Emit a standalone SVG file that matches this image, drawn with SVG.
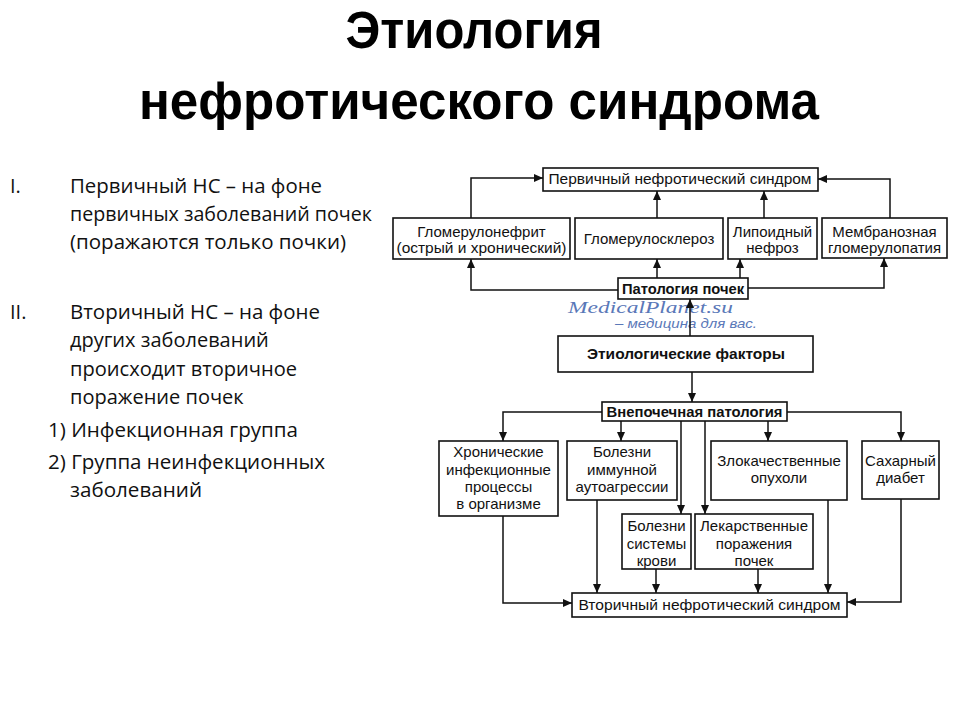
<svg xmlns="http://www.w3.org/2000/svg" width="960" height="720" viewBox="0 0 960 720">
<defs>
<marker id="ah" markerUnits="userSpaceOnUse" markerWidth="9" markerHeight="8" refX="9" refY="4" orient="auto">
<path d="M0,0 L9,4 L0,8 z" fill="#111"/>
</marker>
<style>
.title{font-family:"Liberation Sans",Arial,sans-serif;font-weight:bold;font-size:51px;fill:#000;text-anchor:middle}
.lt{font-family:"Open Sans","Noto Sans","Liberation Sans",sans-serif;font-size:20px;fill:#111}
.box{fill:#fff;stroke:#111;stroke-width:1.6}
.t{font-family:"Liberation Sans",Arial,sans-serif;font-size:15px;fill:#111;text-anchor:middle}
.b{font-weight:bold}
.con path{fill:none;stroke:#111;stroke-width:1.5;marker-end:url(#ah)}
.wm1{font-family:"Liberation Serif",serif;font-style:italic;font-size:16.5px;fill:#5a78b8}
.wm2{font-family:"Liberation Sans",sans-serif;font-style:italic;font-size:13px;fill:#5a78b8}
</style>
</defs>
<rect width="960" height="720" fill="#fff"/>

<text class="title" x="474" y="48" textLength="257" lengthAdjust="spacingAndGlyphs">Этиология</text>
<text class="title" x="479" y="119" textLength="680" lengthAdjust="spacingAndGlyphs">нефротического синдрома</text>

<g id="left-text">
<text class="lt" x="10" y="193">I.</text>
<text class="lt" x="70" y="193" textLength="252" lengthAdjust="spacingAndGlyphs">Первичный НС – на фоне</text>
<text class="lt" x="70" y="221" textLength="302" lengthAdjust="spacingAndGlyphs">первичных заболеваний почек</text>
<text class="lt" x="70" y="249" textLength="276" lengthAdjust="spacingAndGlyphs">(поражаются только почки)</text>
<text class="lt" x="10" y="319">II.</text>
<text class="lt" x="70" y="319" textLength="250" lengthAdjust="spacingAndGlyphs">Вторичный НС – на фоне</text>
<text class="lt" x="70" y="347">других заболеваний</text>
<text class="lt" x="70" y="376" textLength="227" lengthAdjust="spacingAndGlyphs">происходит вторичное</text>
<text class="lt" x="70" y="404">поражение почек</text>
<text class="lt" x="48" y="437" textLength="250" lengthAdjust="spacingAndGlyphs">1) Инфекционная группа</text>
<text class="lt" x="48" y="469" textLength="277" lengthAdjust="spacingAndGlyphs">2) Группа неинфекционных</text>
<text class="lt" x="70" y="497" textLength="132" lengthAdjust="spacingAndGlyphs">заболеваний</text>
</g>

<g id="watermark">
<text class="wm1" x="568" y="312.5" textLength="165" lengthAdjust="spacingAndGlyphs">MedicalPlanet.su</text>
<text class="wm2" x="615" y="328" textLength="142" lengthAdjust="spacingAndGlyphs">– медицина для вас.</text>
</g>

<g class="con" id="connectors">
<path d="M471,218 V178 H543"/>
<path d="M657,218 V191"/>
<path d="M764,218 V191"/>
<path d="M890,218 V179 H818"/>
<path d="M618,290 H471 V259"/>
<path d="M657,278 V259"/>
<path d="M740,278 V259"/>
<path d="M748,288 H884 V258"/>
<path d="M690,336 V299"/>
<path d="M692,372 V402"/>
<path d="M602,412 H503 V441"/>
<path d="M621,421 V441"/>
<path d="M681,421 V514"/>
<path d="M705,421 V514"/>
<path d="M768,421 V441"/>
<path d="M787,412 H901 V441"/>
<path d="M503,516 V603 H572"/>
<path d="M597,500 V593"/>
<path d="M656,569 V593"/>
<path d="M758,569 V593"/>
<path d="M828,500 V593"/>
<path d="M901,499 V602 H847"/>
</g>

<g id="primary-ns">
<rect class="box" x="543" y="168" width="275" height="23"/>
<text class="t" x="680" y="184" textLength="263" lengthAdjust="spacingAndGlyphs">Первичный нефротический синдром</text>
</g>
<g id="glomerulonephritis">
<rect class="box" x="393" y="218" width="177" height="41"/>
<text class="t" x="481.5" y="237">Гломерулонефрит</text>
<text class="t" x="481.5" y="253" textLength="170" lengthAdjust="spacingAndGlyphs">(острый и хронический)</text>
</g>
<g id="glomerulosclerosis">
<rect class="box" x="575" y="218" width="148" height="41"/>
<text class="t" x="649" y="244">Гломерулосклероз</text>
</g>
<g id="lipoid-nephrosis">
<rect class="box" x="728" y="218" width="89" height="41"/>
<text class="t" x="772.5" y="237">Липоидный</text>
<text class="t" x="772.5" y="253">нефроз</text>
</g>
<g id="membranous">
<rect class="box" x="822" y="218" width="125" height="40"/>
<text class="t" x="884.5" y="237">Мембранозная</text>
<text class="t" x="884.5" y="253">гломерулопатия</text>
</g>
<g id="renal-pathology">
<rect class="box" x="618" y="278" width="130" height="21"/>
<text class="t b" x="683" y="294" textLength="122" lengthAdjust="spacingAndGlyphs">Патология почек</text>
</g>
<g id="etiological-factors">
<rect class="box" x="558" y="336" width="255" height="36"/>
<text class="t b" x="686" y="359" textLength="198" lengthAdjust="spacingAndGlyphs">Этиологические факторы</text>
</g>
<g id="extrarenal">
<rect class="box" x="602" y="402" width="185" height="19"/>
<text class="t b" x="694.5" y="417" textLength="176" lengthAdjust="spacingAndGlyphs">Внепочечная патология</text>
</g>
<g id="chronic-infections">
<rect class="box" x="439" y="441" width="119" height="75"/>
<text class="t" x="498.5" y="457">Хронические</text>
<text class="t" x="498.5" y="475">инфекционные</text>
<text class="t" x="498.5" y="492">процессы</text>
<text class="t" x="498.5" y="509">в организме</text>
</g>
<g id="autoimmune">
<rect class="box" x="567" y="441" width="110" height="59"/>
<text class="t" x="622" y="457">Болезни</text>
<text class="t" x="622" y="475">иммунной</text>
<text class="t" x="622" y="492">аутоагрессии</text>
</g>
<g id="malignant">
<rect class="box" x="711" y="441" width="136" height="59"/>
<text class="t" x="779" y="466">Злокачественные</text>
<text class="t" x="779" y="483">опухоли</text>
</g>
<g id="diabetes">
<rect class="box" x="862" y="441" width="77" height="58"/>
<text class="t" x="900.5" y="466">Сахарный</text>
<text class="t" x="900.5" y="483">диабет</text>
</g>
<g id="blood-diseases">
<rect class="box" x="622" y="514" width="69" height="55"/>
<text class="t" x="656.5" y="531">Болезни</text>
<text class="t" x="656.5" y="549">системы</text>
<text class="t" x="656.5" y="566">крови</text>
</g>
<g id="drug-induced">
<rect class="box" x="695" y="514" width="118" height="55"/>
<text class="t" x="754" y="531">Лекарственные</text>
<text class="t" x="754" y="549">поражения</text>
<text class="t" x="754" y="566">почек</text>
</g>
<g id="secondary-ns">
<rect class="box" x="572" y="593" width="275" height="24"/>
<text class="t" x="709.5" y="610" textLength="262" lengthAdjust="spacingAndGlyphs">Вторичный нефротический синдром</text>
</g>
</svg>
